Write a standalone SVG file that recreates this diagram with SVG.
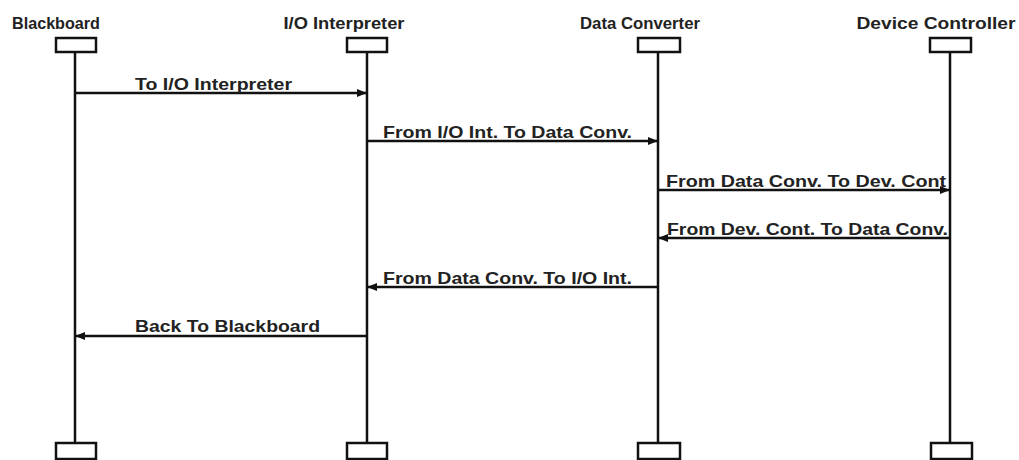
<svg xmlns="http://www.w3.org/2000/svg" width="1019" height="460" viewBox="0 0 1019 460">
<style>
.t{font-family:"Liberation Sans",Arial,sans-serif;font-weight:bold;font-size:17px;fill:#222}
.box{fill:#fff;stroke:#111;stroke-width:2.5}
.life{stroke:#111;stroke-width:2.5}
.msg{stroke:#111;stroke-width:2.5;fill:none}
</style>
<defs>
<marker id="ah" markerWidth="10" markerHeight="8" refX="10" refY="4" orient="auto" markerUnits="userSpaceOnUse">
<path d="M0,0 L10,4 L0,8 Z" fill="#111"/>
</marker>
</defs>
<rect width="1019" height="460" fill="#fff"/>
<g id="blackboard">
<text class="t" x="56" y="29" text-anchor="middle" textLength="88" lengthAdjust="spacingAndGlyphs">Blackboard</text>
<line class="life" x1="75" y1="53" x2="75" y2="443"/>
<rect class="box" x="56" y="38" width="40" height="14"/>
<rect class="box" x="56" y="443" width="40" height="16"/>
</g>
<g id="io-interpreter">
<text class="t" x="344" y="29" text-anchor="middle" textLength="121" lengthAdjust="spacingAndGlyphs">I/O Interpreter</text>
<line class="life" x1="367" y1="53" x2="367" y2="443"/>
<rect class="box" x="347" y="38" width="40" height="14"/>
<rect class="box" x="347" y="443" width="40" height="16"/>
</g>
<g id="data-converter">
<text class="t" x="640" y="29" text-anchor="middle" textLength="120" lengthAdjust="spacingAndGlyphs">Data Converter</text>
<line class="life" x1="658" y1="53" x2="658" y2="443"/>
<rect class="box" x="638" y="38" width="42" height="14"/>
<rect class="box" x="638" y="443" width="42" height="16"/>
</g>
<g id="device-controller">
<text class="t" x="936" y="29" text-anchor="middle" textLength="159" lengthAdjust="spacingAndGlyphs">Device Controller</text>
<line class="life" x1="950" y1="53" x2="950" y2="443"/>
<rect class="box" x="930" y="38" width="41" height="14"/>
<rect class="box" x="931" y="443" width="41" height="16"/>
</g>
<g id="connectors">
<line class="msg" x1="75" y1="93" x2="367" y2="93" marker-end="url(#ah)"/>
<text class="t" x="135" y="90" textLength="157" lengthAdjust="spacingAndGlyphs">To I/O Interpreter</text>
<line class="msg" x1="367" y1="141" x2="658" y2="141" marker-end="url(#ah)"/>
<text class="t" x="383" y="138" textLength="249" lengthAdjust="spacingAndGlyphs">From I/O Int. To Data Conv.</text>
<line class="msg" x1="658" y1="190" x2="950" y2="190" marker-end="url(#ah)"/>
<text class="t" x="666" y="187" textLength="280" lengthAdjust="spacingAndGlyphs">From Data Conv. To Dev. Cont</text>
<line class="msg" x1="950" y1="238" x2="658" y2="238" marker-end="url(#ah)"/>
<text class="t" x="667" y="235" textLength="281" lengthAdjust="spacingAndGlyphs">From Dev. Cont. To Data Conv.</text>
<line class="msg" x1="658" y1="287" x2="367" y2="287" marker-end="url(#ah)"/>
<text class="t" x="383" y="284" textLength="249" lengthAdjust="spacingAndGlyphs">From Data Conv. To I/O Int.</text>
<line class="msg" x1="367" y1="336" x2="75" y2="336" marker-end="url(#ah)"/>
<text class="t" x="135" y="332" textLength="185" lengthAdjust="spacingAndGlyphs">Back To Blackboard</text>
</g>
</svg>
